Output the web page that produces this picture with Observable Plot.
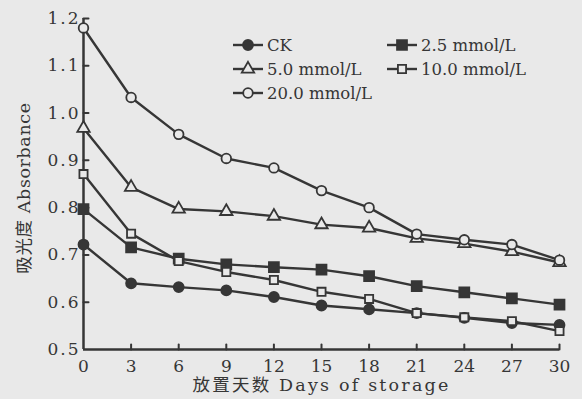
<!DOCTYPE html>
<html><head><meta charset="utf-8">
<script src="https://cdn.jsdelivr.net/npm/d3@7"></script>
<script src="https://cdn.jsdelivr.net/npm/@observablehq/plot@0.6"></script>
<style>
html,body{margin:0;padding:0;background:#e9e9e9;}
#chart svg{display:block;}
g[aria-label="y-axis tick label"] text{letter-spacing:2px;}
</style></head><body><div id="chart"></div>
<script>
const days = [0, 3, 6, 9, 12, 15, 18, 21, 24, 27, 30];
const seriesNames = ["CK", "2.5 mmol/L", "5.0 mmol/L", "10.0 mmol/L", "20.0 mmol/L"];
const ckValues   = [0.722, 0.640, 0.632, 0.625, 0.611, 0.593, 0.585, 0.577, 0.567, 0.556, 0.552];
const c25Values  = [0.797, 0.716, 0.692, 0.680, 0.674, 0.669, 0.655, 0.634, 0.621, 0.608, 0.595];
const c50Values  = [0.968, 0.843, 0.797, 0.792, 0.782, 0.764, 0.757, 0.735, 0.724, 0.707, 0.684];
const c100Values = [0.871, 0.745, 0.687, 0.664, 0.647, 0.622, 0.607, 0.577, 0.568, 0.560, 0.539];
const c200Values = [1.180, 1.033, 0.955, 0.904, 0.884, 0.836, 0.800, 0.744, 0.732, 0.722, 0.689];
const yTicks = [0.5, 0.6, 0.7, 0.8, 0.9, 1.0, 1.1, 1.2];
const xLabel = "放置天数 Days of storage";
const yLabel = "吸光度 Absorbance";

const allValues = [ckValues, c25Values, c50Values, c100Values, c200Values];
const table = seriesNames.flatMap((name, s) => days.map((d, i) => ({series: name, day: d, value: allValues[s][i]})));

const ink = "#363636";
const bg = "#e9e9e9";
const styles = {
  "CK":          {symbol: "circle",   fill: ink, r: 5},
  "2.5 mmol/L":  {symbol: "square",   fill: ink, r: 5.6},
  "5.0 mmol/L":  {symbol: "triangle", fill: bg,  r: 4.6},
  "10.0 mmol/L": {symbol: "square",   fill: bg,  r: 4.6},
  "20.0 mmol/L": {symbol: "circle",   fill: bg,  r: 4.8}
};
const font = "'DejaVu Serif', 'Noto Sans CJK SC', serif";
const tickShape = {draw(context, l) { context.moveTo(0, 0); context.lineTo(0, -l); }};
const xMin = days[0], yMin = yTicks[0];

const marks = [
  Plot.ruleY([yMin], {stroke: ink, strokeWidth: 2.5}),
  Plot.ruleX([xMin], {stroke: ink, strokeWidth: 2.5}),
  Plot.vector(days.slice(1), {x: d => d, y: yMin, length: 5, anchor: "start", shape: tickShape, stroke: ink, strokeWidth: 2}),
  Plot.vector(yTicks.slice(1), {x: xMin, y: d => d, length: 5, rotate: 90, anchor: "start", shape: tickShape, stroke: ink, strokeWidth: 2}),
  Plot.axisX({ticks: days, tickSize: 0, tickPadding: 10, tickFormat: d => String(d), fontSize: 17, label: null}),
  Plot.axisY({ticks: yTicks, tickSize: 0, tickPadding: 3, tickFormat: d3.format(".1f"), fontSize: 17, label: null}),
  Plot.line(table, {x: "day", y: "value", z: "series", stroke: ink, strokeWidth: 2.4}),
  ...seriesNames.map(name => Plot.dot(table.filter(d => d.series === name), {
    x: "day", y: "value", symbol: () => styles[name].symbol, r: styles[name].r,
    fill: styles[name].fill, stroke: ink, strokeWidth: 1.8
  })),
  Plot.text([xLabel], {text: d => d, frameAnchor: "bottom", textAnchor: "middle", dy: 41, fontSize: 17.5, fill: ink}),
  Plot.text([yLabel], {text: d => d, frameAnchor: "left", textAnchor: "middle", dx: -59, dy: 4, rotate: -90, fontSize: 17.5, fill: ink})
];

const chart = Plot.plot({
  width: 582, height: 399,
  marginLeft: 83, marginRight: 23, marginTop: 18, marginBottom: 50,
  x: {domain: [0, 30], axis: null},
  y: {domain: [0.5, 1.2], axis: null},
  symbol: {type: "identity"},
  style: {background: bg, color: ink, fontFamily: font, fontSize: "17px", overflow: "visible"},
  marks
});
document.getElementById("chart").append(chart);

const svg = d3.select(chart);
svg.selectAll("text").filter(function() { return this.textContent === xLabel; }).style("letter-spacing", "2.2px");
svg.selectAll("text").filter(function() { return this.textContent === yLabel; }).style("letter-spacing", "0.6px");

// Legend
const legendPos = [
  {name: "CK", x: 248, y: 45},
  {name: "2.5 mmol/L", x: 402, y: 45},
  {name: "5.0 mmol/L", x: 248, y: 69},
  {name: "10.0 mmol/L", x: 402, y: 69},
  {name: "20.0 mmol/L", x: 248, y: 93}
];
const symMap = {circle: d3.symbolCircle, square: d3.symbolSquare, triangle: d3.symbolTriangle};
const lg = svg.append("g").attr("font-family", font).attr("font-size", 16.5).attr("fill", ink).attr("text-anchor", "start");
for (const item of legendPos) {
  const st = styles[item.name];
  const g = lg.append("g").attr("transform", `translate(${item.x},${item.y})`);
  g.append("line").attr("x1", -15).attr("x2", 15).attr("stroke", ink).attr("stroke-width", 2.4);
  g.append("path").attr("d", d3.symbol().type(symMap[st.symbol]).size(st.r * st.r * Math.PI)())
    .attr("fill", st.fill).attr("stroke", ink).attr("stroke-width", 1.8);
  g.append("text").attr("x", 19).attr("dy", "0.34em").text(item.name);
}
</script></body></html>
